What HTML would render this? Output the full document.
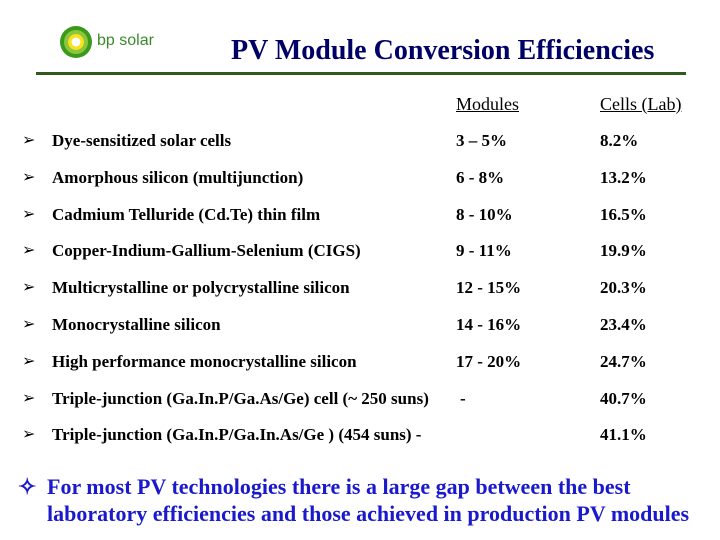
<!DOCTYPE html>
<html><head><meta charset="utf-8"><style>
body{margin:0;width:720px;height:540px;background:#fff;position:relative;overflow:hidden;font-family:"Liberation Serif",serif;}
.a{position:absolute;white-space:nowrap;line-height:20px;font-weight:bold;font-size:17px;color:#000;}
.b{position:absolute;font-size:16px;line-height:20px;color:#000;}
.t{font-size:28px;color:#000066;line-height:32px;}
.f{font-size:22px;color:#1a1acc;line-height:27px;}
</style></head><body>
<svg style="position:absolute;left:58px;top:24px" width="36" height="36" viewBox="-18 -18 36 36">
<g fill="#3a9a1a"><circle r="16"/></g>
<g fill="#8cc63f"><circle r="12"/></g>
<g fill="#f7e21b"><circle r="8"/></g>
<circle r="4.5" fill="#fff"/>
</svg>
<div class="a" style="left:97px;top:31px;font-family:'Liberation Sans',sans-serif;font-weight:normal;font-size:16px;color:#3a8a2a">bp solar</div>
<div class="a t" style="left:231px;top:35px">PV Module Conversion Efficiencies</div>
<div style="position:absolute;left:36px;top:72px;width:650px;height:3px;background:#2e5a1e"></div>
<div class="a" style="left:456px;top:94px;font-weight:normal;font-size:18px;text-decoration:underline">Modules</div>
<div class="a" style="left:600px;top:94px;font-weight:normal;font-size:18px;text-decoration:underline">Cells (Lab)</div>
<div id="rows"></div>
<div class="a f" style="left:18px;top:473px">✧</div>
<div class="a f" style="left:47px;top:473px">For most PV technologies there is a large gap between the best<br>laboratory efficiencies and those achieved in production PV modules</div>
<script>
const techs=["Dye-sensitized solar cells","Amorphous silicon (multijunction)","Cadmium Telluride (Cd.Te) thin film","Copper-Indium-Gallium-Selenium (CIGS)","Multicrystalline or polycrystalline silicon","Monocrystalline silicon","High performance monocrystalline silicon","Triple-junction (Ga.In.P/Ga.As/Ge) cell (~ 250 suns)","Triple-junction (Ga.In.P/Ga.In.As/Ge ) (454 suns)  -"];
const modules=["3 – 5%","6 - 8%","8 - 10%","9 - 11%","12 - 15%","14 - 16%","17 - 20%","  -",""];
const cells=["8.2%","13.2%","16.5%","19.9%","20.3%","23.4%","24.7%","40.7%","41.1%"];
const c=document.body;
techs.forEach((t,i)=>{
 const y=131+i*36.8;
 const mk=(txt,x,cls,name)=>{const d=document.createElement('div');d.className=cls;d.style.left=x+'px';d.style.top=y+'px';d.textContent=txt;
 
 
 c.appendChild(d);};
 mk('➢',22,'b','row-bullet');
 mk(t,52,'a','technology-label');
 mk(modules[i],i==7?460:456,'a','module-efficiency');
 mk(cells[i],600,'a','cell-efficiency');
});
</script>
</body></html>
